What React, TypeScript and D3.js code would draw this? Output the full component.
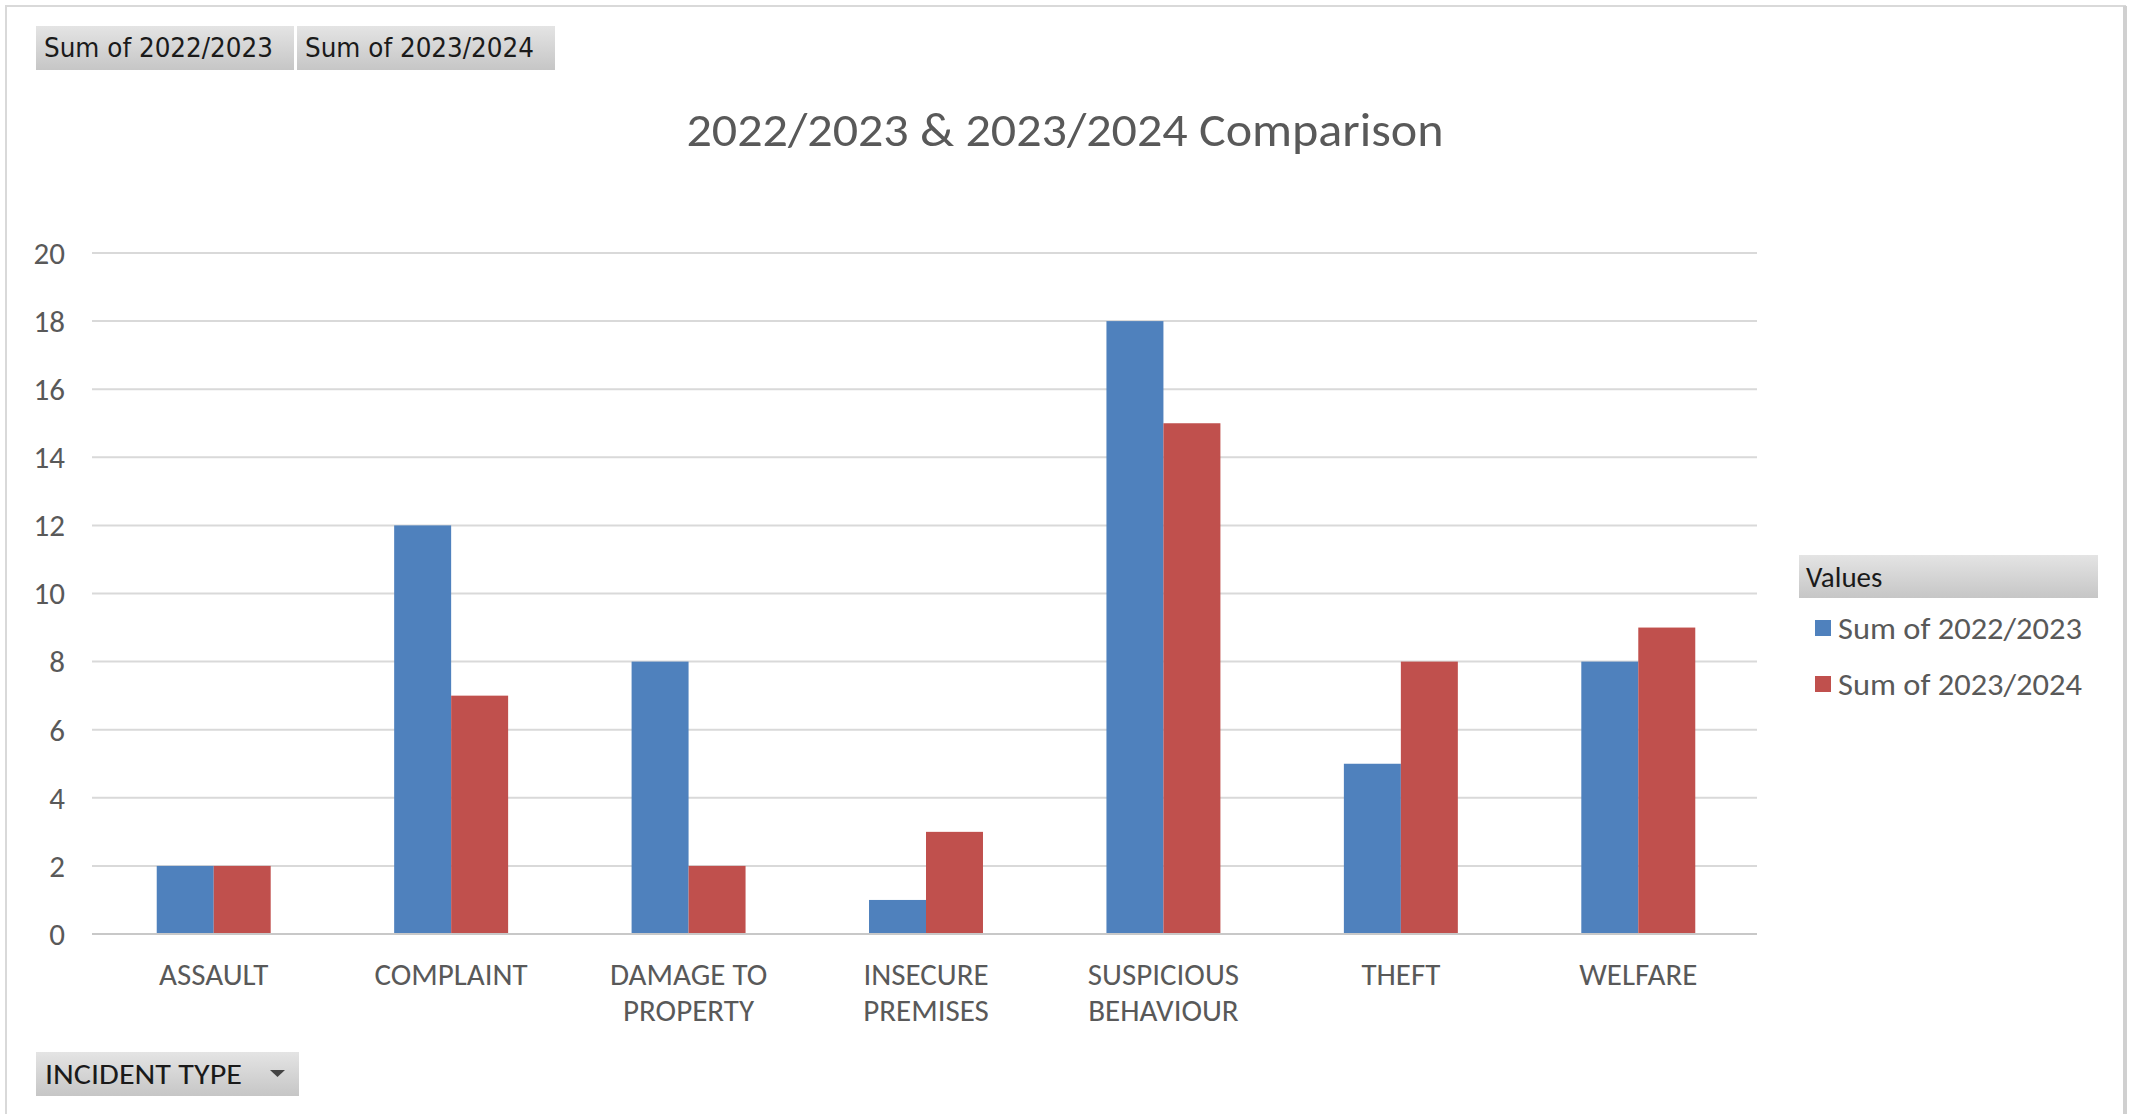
import React from "react";
import * as d3 from "d3";

const categories = [
  ["ASSAULT"],
  ["COMPLAINT"],
  ["DAMAGE TO", "PROPERTY"],
  ["INSECURE", "PREMISES"],
  ["SUSPICIOUS", "BEHAVIOUR"],
  ["THEFT"],
  ["WELFARE"],
];
const seriesNames = ["Sum of 2022/2023", "Sum of 2023/2024"];
const values2022 = [2, 12, 8, 1, 18, 5, 8];
const values2023 = [2, 7, 2, 3, 15, 8, 9];
const yTicks = [0, 2, 4, 6, 8, 10, 12, 14, 16, 18, 20];
const title = "2022/2023 & 2023/2024 Comparison";
const colors = ["#4F81BD", "#C0504D"];

const W = 2132;
const H = 1114;
const FONT = "Carlito, Calibri, Lato, 'Open Sans', sans-serif";
const TXT = "#595959";

export default function App() {
  const x = d3
    .scaleBand<number>()
    .domain(categories.map((_, i) => i))
    .range([95, 1757])
    .paddingInner(0.52)
    .paddingOuter(0.26);
  const xs = d3.scaleBand<number>().domain([0, 1]).range([0, x.bandwidth()]);
  const y = d3.scaleLinear().domain([0, 20]).range([934, 253]);
  const series = [values2022, values2023];

  return (
    <svg
      width={W}
      height={H}
      style={{ position: "absolute", left: 0, top: 0, background: "#fff" }}
    >
      <defs>
        <linearGradient id="btn" x1="0" y1="0" x2="0" y2="1">
          <stop offset="0" stopColor="#e4e4e4" />
          <stop offset="1" stopColor="#c6c6c6" />
        </linearGradient>
      </defs>
      {/* chart border */}
      <rect x={6} y={6} width={2119} height={1120} fill="#fff" stroke="#d9d9d9" strokeWidth={2} />
      <line x1={2125} y1={6} x2={2125} y2={1114} stroke="#d0d0d0" strokeWidth={4} />

      {/* field buttons */}
      {seriesNames.map((s, i) => {
        const bx = i === 0 ? 36 : 297;
        return (
          <g key={s}>
            <rect x={bx} y={26} width={258} height={44} fill="url(#btn)" />
            <text
              x={bx + 8}
              y={48}
              dy="0.35em"
              fontFamily="Tahoma, 'DejaVu Sans', sans-serif"
              fontSize={27}
              fill="#1a1a1a"
              textLength={229}
              lengthAdjust="spacingAndGlyphs"
            >
              {s}
            </text>
          </g>
        );
      })}

      {/* title */}
      <text
        x={1065}
        y={129}
        dy="0.35em"
        textAnchor="middle"
        fontFamily={FONT}
        fontSize={48}
        fill={TXT}
        textLength={757}
        lengthAdjust="spacingAndGlyphs"
      >
        {title}
      </text>

      {/* gridlines & y ticks */}
      {yTicks.map((t) => (
        <g key={t}>
          <line
            x1={92}
            x2={1757}
            y1={y(t)}
            y2={y(t)}
            stroke={t === 0 ? "#c8c8c8" : "#d9d9d9"}
            strokeWidth={2}
          />
          <text
            x={65}
            y={y(t)}
            dy="0.35em"
            textAnchor="end"
            fontFamily={FONT}
            fontSize={31}
            fill={TXT}
          >
            {t}
          </text>
        </g>
      ))}

      {/* bars */}
      {categories.map((_, i) =>
        series.map((vals, s) => (
          <rect
            key={`${i}-${s}`}
            x={(x(i) as number) + (xs(s) as number)}
            y={y(vals[i])}
            width={xs.bandwidth()}
            height={y(0) - y(vals[i])}
            fill={colors[s]}
          />
        ))
      )}
      <line x1={92} x2={1757} y1={y(0)} y2={y(0)} stroke="#c8c8c8" strokeWidth={2} />

      {/* x labels */}
      {categories.map((lines, i) => (
        <text
          key={i}
          x={(x(i) as number) + x.bandwidth() / 2}
          y={974}
          textAnchor="middle"
          fontFamily={FONT}
          fontSize={31}
          fill={TXT}
        >
          {lines.map((l, k) => (
            <tspan key={k} x={(x(i) as number) + x.bandwidth() / 2} dy={k === 0 ? "0.35em" : 36}>
              {l}
            </tspan>
          ))}
        </text>
      ))}

      {/* legend */}
      <rect x={1799} y={555} width={299} height={43} fill="url(#btn)" />
      <text x={1806} y={577} dy="0.35em" fontFamily={FONT} fontSize={29} fill="#1a1a1a">
        Values
      </text>
      {seriesNames.map((s, i) => (
        <g key={s}>
          <rect x={1815} y={620 + i * 56} width={16} height={16} fill={colors[i]} />
          <text
            x={1838}
            y={628 + i * 56}
            dy="0.35em"
            fontFamily={FONT}
            fontSize={31}
            fill={TXT}
            textLength={244}
            lengthAdjust="spacingAndGlyphs"
          >
            {s}
          </text>
        </g>
      ))}

      {/* axis field button */}
      <rect x={36} y={1052} width={263} height={44} fill="url(#btn)" />
      <text
        x={45}
        y={1074}
        dy="0.35em"
        fontFamily={FONT}
        fontSize={29}
        fill="#1a1a1a"
        textLength={197}
        lengthAdjust="spacingAndGlyphs"
      >
        INCIDENT TYPE
      </text>
      <path d="M270,1070 L285,1070 L277.5,1077 Z" fill="#444" />
    </svg>
  );
}
